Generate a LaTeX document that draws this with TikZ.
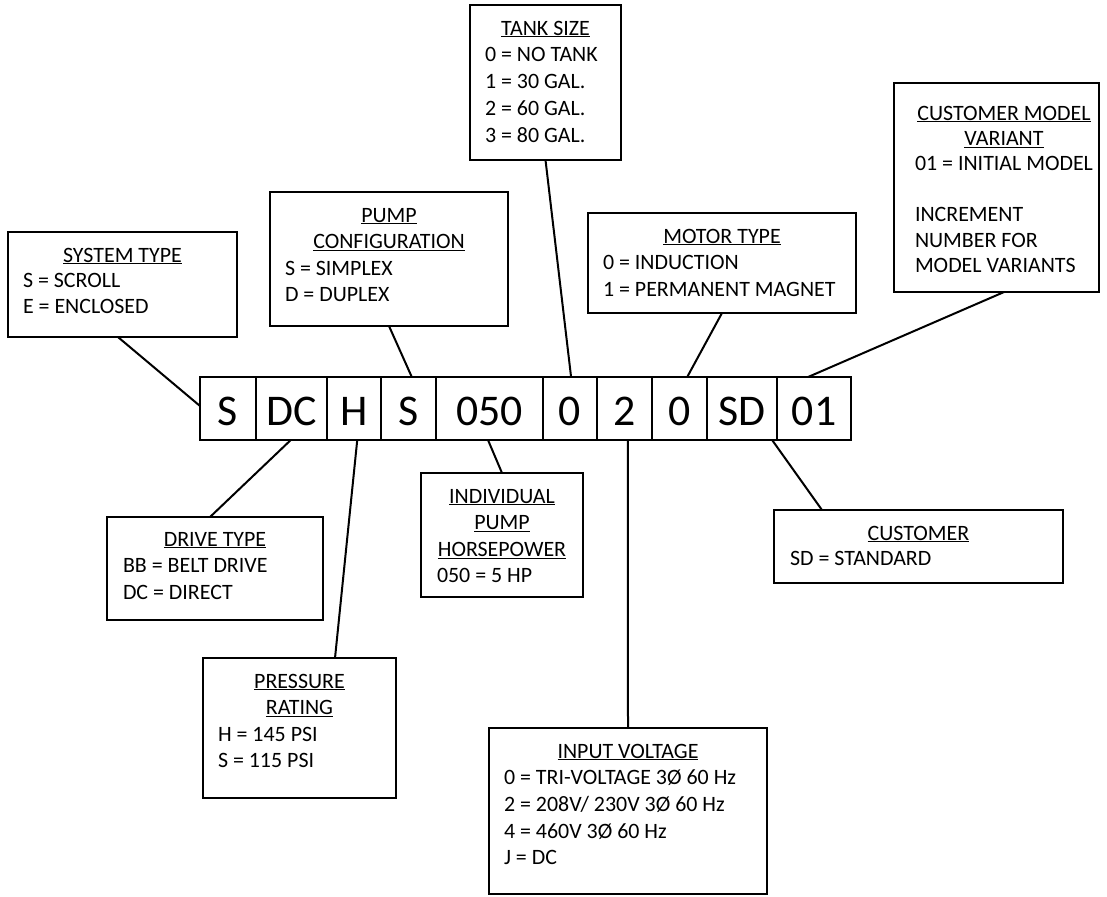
\documentclass[tikz,border=0pt]{standalone}
\usepackage{fontspec}
\setmainfont{Carlito}
\usetikzlibrary{calc}
\tikzset{
  cell/.style={draw, line width=2.6bp, minimum height=63bp, inner sep=0pt, outer sep=0pt,
    anchor=north west, text height=33bp, text depth=0bp, font=\fontsize{44}{50}\selectfont},
  infobox/.style={draw, line width=2.4bp, inner sep=0pt, outer sep=0pt, anchor=north west},
  infotext/.style={inner sep=0pt, outer sep=0pt, anchor=north west, align=left,
    font=\fontsize{22}{26.7}\selectfont},
  link/.style={line width=2bp},
}
\newcommand{\ttl}[2]{\makebox[#1bp][c]{\underline{#2}}}
\newcommand{\fst}{\rule{0pt}{15bp}}
\begin{document}
\begin{tikzpicture}[x=1bp,y=-1bp]
\useasboundingbox (0,0) rectangle (1107,897);

% code cells
\node[cell, minimum width=56bp]  (c1)  at (200,377) {S};
\node[cell, minimum width=71bp]  (c2)  at (256,377) {DC};
\node[cell, minimum width=54bp]  (c3)  at (327,377) {H};
\node[cell, minimum width=55bp]  (c4)  at (381,377) {S};
\node[cell, minimum width=107bp] (c5)  at (436,377) {050};
\node[cell, minimum width=54bp]  (c6)  at (543,377) {0};
\node[cell, minimum width=55bp]  (c7)  at (597,377) {2};
\node[cell, minimum width=55bp]  (c8)  at (652,377) {0};
\node[cell, minimum width=70bp]  (c9)  at (707,377) {SD};
\node[cell, minimum width=74bp]  (c10) at (777,377) {01};

% boxes
\node[infobox, minimum width=229bp, minimum height=105bp] (sys) at (8,232) {};
\node[infotext, font=\fontsize{22}{26}\selectfont] (sysT) at (23,247) {\fst\ttl{199}{SYSTEM TYPE}\\S = SCROLL\\E = ENCLOSED};

\node[infobox, minimum width=238bp, minimum height=134bp] (pump) at (270,192) {};
\node[infotext] (pumpT) at (285,207) {\fst\ttl{208}{PUMP}\\\ttl{208}{CONFIGURATION}\\S = SIMPLEX\\D = DUPLEX};

\node[infobox, minimum width=151bp, minimum height=155bp] (tank) at (470,5) {};
\node[infotext, font=\fontsize{22}{27}\selectfont] (tankT) at (485,20) {\fst\ttl{121}{TANK SIZE}\\0 = NO TANK\\1 = 30 GAL.\\2 = 60 GAL.\\3 = 80 GAL.};

\node[infobox, minimum width=268bp, minimum height=100bp] (motor) at (588,213) {};
\node[infotext, font=\fontsize{22}{27}\selectfont] (motorT) at (603,228) {\fst\ttl{238}{MOTOR TYPE}\\0 = INDUCTION\\1 = PERMANENT MAGNET};

\node[infobox, minimum width=205bp, minimum height=209bp] (cmv) at (894,83) {};
\node[infotext, font=\fontsize{22}{25.5}\selectfont] (cmvT) at (915,105) {\fst\ttl{178}{CUSTOMER MODEL}\\\ttl{178}{VARIANT}\\01 = INITIAL MODEL\\[25.5bp]INCREMENT\\NUMBER FOR\\MODEL VARIANTS};

\node[infobox, minimum width=216bp, minimum height=103bp] (drive) at (107,517) {};
\node[infotext, font=\fontsize{22}{27}\selectfont] (driveT) at (123,531) {\fst\ttl{184}{DRIVE TYPE}\\BB = BELT DRIVE\\DC = DIRECT};

\node[infobox, minimum width=162bp, minimum height=124bp] (hp) at (421,473) {};
\node[infotext] (hpT) at (437,488) {\fst\ttl{130}{INDIVIDUAL}\\\ttl{130}{PUMP}\\\ttl{130}{HORSEPOWER}\\050 = 5 HP};

\node[infobox, minimum width=193bp, minimum height=140bp] (press) at (203,658) {};
\node[infotext] (pressT) at (218,673) {\fst\ttl{163}{PRESSURE}\\\ttl{163}{RATING}\\H = 145 PSI\\S = 115 PSI};

\node[infobox, minimum width=278bp, minimum height=166bp] (volt) at (489,728) {};
\node[infotext, font=\fontsize{22}{26.8}\selectfont] (voltT) at (504,743) {\fst\ttl{248}{INPUT VOLTAGE}\\0 = TRI-VOLTAGE 3Ø 60 Hz\\2 = 208V/ 230V 3Ø 60 Hz\\4 = 460V 3Ø 60 Hz\\J = DC};

\node[infobox, minimum width=289bp, minimum height=73bp] (cust) at (774,510) {};
\node[infotext, font=\fontsize{22}{26}\selectfont] (custT) at (790,525) {\fst\ttl{257}{CUSTOMER}\\SD = STANDARD};

% connectors
\draw[link] ($(sys.south west)!0.48!(sys.south east)$) -- ($(c1.north west)!0.46!(c1.south west)$);
\draw[link] ($(pump.south west)!0.5!(pump.south east)$) -- ($(c4.north west)!0.56!(c4.north east)$);
\draw[link] ($(tank.south west)!0.5!(tank.south east)$) -- ($(c6.north west)!0.52!(c6.north east)$);
\draw[link] ($(motor.south west)!0.5!(motor.south east)$) -- ($(c8.north west)!0.64!(c8.north east)$);
\draw[link] ($(cmv.south west)!0.537!(cmv.south east)$) -- ($(c10.north west)!0.42!(c10.north east)$);
\draw[link] ($(drive.north west)!0.477!(drive.north east)$) -- ($(c2.south west)!0.49!(c2.south east)$);
\draw[link] ($(press.north west)!0.684!(press.north east)$) -- ($(c3.south west)!0.56!(c3.south east)$);
\draw[link] ($(hp.north west)!0.5!(hp.north east)$) -- ($(c5.south west)!0.486!(c5.south east)$);
\draw[link] ($(volt.north west)!0.5!(volt.north east)$) -- ($(c7.south west)!0.56!(c7.south east)$);
\draw[link] ($(cust.north west)!0.166!(cust.north east)$) -- ($(c9.south west)!0.93!(c9.south east)$);
\end{tikzpicture}
\end{document}
